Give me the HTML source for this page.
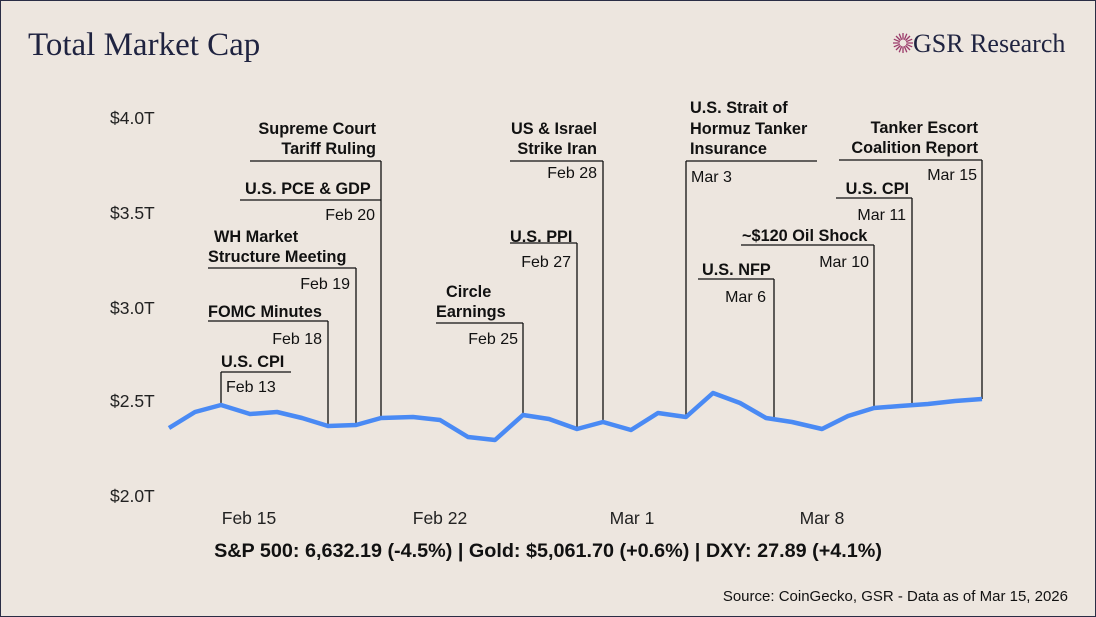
<!DOCTYPE html>
<html><head><meta charset="utf-8"><style>
html,body{margin:0;padding:0;background:#ede6df;}
svg{display:block;}
.b{font-family:"Liberation Sans",sans-serif;font-weight:bold;font-size:16.3px;fill:#111;}
.r{font-family:"Liberation Sans",sans-serif;font-size:16px;fill:#111;}
.ax{font-family:"Liberation Sans",sans-serif;font-size:17.5px;fill:#222;}
line{stroke:#111;stroke-width:1.3;}
</style></head><body>
<svg width="1096" height="617" viewBox="0 0 1096 617" xmlns="http://www.w3.org/2000/svg">
<rect x="0.5" y="0.5" width="1095" height="616" fill="#ede6df" stroke="#2a2d45" stroke-width="1"/>
<text x="28" y="55" font-family="Liberation Serif,serif" font-size="33" fill="#1f2340">Total Market Cap</text>
<g transform="translate(903,43)">
<line x1="-10" y1="0" x2="10" y2="0" style="stroke:#9b3a6a"/><line x1="0" y1="-10" x2="0" y2="10" style="stroke:#9b3a6a"/>
<line x1="-7" y1="-7" x2="7" y2="7" style="stroke:#9b3a6a"/><line x1="-7" y1="7" x2="7" y2="-7" style="stroke:#9b3a6a"/>
<line x1="-9.2" y1="-3.8" x2="9.2" y2="3.8" style="stroke:#9b3a6a"/><line x1="-9.2" y1="3.8" x2="9.2" y2="-3.8" style="stroke:#9b3a6a"/>
<line x1="-3.8" y1="-9.2" x2="3.8" y2="9.2" style="stroke:#9b3a6a"/><line x1="3.8" y1="-9.2" x2="-3.8" y2="9.2" style="stroke:#9b3a6a"/>
<circle r="3.5" fill="#ede6df" stroke="none"/>
</g>
<text x="913" y="52" font-family="Liberation Serif,serif" font-size="26" fill="#1f2340">GSR Research</text>

<text class="ax" x="110" y="124">$4.0T</text>
<text class="ax" x="110" y="219">$3.5T</text>
<text class="ax" x="110" y="314">$3.0T</text>
<text class="ax" x="110" y="407">$2.5T</text>
<text class="ax" x="110" y="502">$2.0T</text>
<text class="ax" x="249" y="524" text-anchor="middle">Feb 15</text>
<text class="ax" x="440" y="524" text-anchor="middle">Feb 22</text>
<text class="ax" x="632" y="524" text-anchor="middle">Mar 1</text>
<text class="ax" x="822" y="524" text-anchor="middle">Mar 8</text>

<line x1="221" y1="405" x2="221" y2="372"/><line x1="221" y1="372" x2="291" y2="372"/>
<text class="b" x="221" y="367">U.S. CPI</text><text class="r" x="226" y="392">Feb 13</text>

<line x1="208" y1="321" x2="328" y2="321"/><line x1="328" y1="321" x2="328" y2="426"/>
<text class="b" x="208" y="317">FOMC Minutes</text><text class="r" x="322" y="344" text-anchor="end">Feb 18</text>

<line x1="208" y1="268" x2="356" y2="268"/><line x1="356" y1="268" x2="356" y2="425"/>
<text class="b" x="214" y="242">WH Market</text><text class="b" x="208" y="262">Structure Meeting</text>
<text class="r" x="350" y="289" text-anchor="end">Feb 19</text>

<line x1="240" y1="200" x2="381" y2="200"/><line x1="250" y1="161" x2="381" y2="161"/><line x1="381" y1="161" x2="381" y2="418"/>
<text class="b" x="245" y="194">U.S. PCE &amp; GDP</text><text class="r" x="375" y="220" text-anchor="end">Feb 20</text>
<text class="b" x="376" y="134" text-anchor="end">Supreme Court</text><text class="b" x="376" y="154" text-anchor="end">Tariff Ruling</text>

<line x1="436" y1="323" x2="523" y2="323"/><line x1="523" y1="323" x2="523" y2="415"/>
<text class="b" x="446" y="297">Circle</text><text class="b" x="436" y="317">Earnings</text>
<text class="r" x="518" y="344" text-anchor="end">Feb 25</text>

<line x1="510" y1="243" x2="577" y2="243"/><line x1="577" y1="243" x2="577" y2="429"/>
<text class="b" x="510" y="242">U.S. PPI</text><text class="r" x="571" y="267" text-anchor="end">Feb 27</text>

<line x1="510" y1="161" x2="603" y2="161"/><line x1="603" y1="161" x2="603" y2="422"/>
<text class="b" x="597" y="134" text-anchor="end">US &amp; Israel</text><text class="b" x="597" y="154" text-anchor="end">Strike Iran</text>
<text class="r" x="597" y="178" text-anchor="end">Feb 28</text>

<line x1="686" y1="161" x2="817" y2="161"/><line x1="686" y1="161" x2="686" y2="417"/>
<text class="b" x="690" y="113">U.S. Strait of</text><text class="b" x="690" y="134">Hormuz Tanker</text><text class="b" x="690" y="154">Insurance</text>
<text class="r" x="691" y="182">Mar 3</text>

<line x1="698" y1="279" x2="774" y2="279"/><line x1="774" y1="279" x2="774" y2="418"/>
<text class="b" x="702" y="275">U.S. NFP</text><text class="r" x="766" y="302" text-anchor="end">Mar 6</text>

<line x1="741" y1="245" x2="874" y2="245"/><line x1="874" y1="245" x2="874" y2="408"/>
<text class="b" x="742" y="241">~$120 Oil Shock</text><text class="r" x="869" y="267" text-anchor="end">Mar 10</text>

<line x1="836" y1="198" x2="912" y2="198"/><line x1="912" y1="198" x2="912" y2="405"/>
<text class="b" x="909" y="194" text-anchor="end">U.S. CPI</text><text class="r" x="906" y="220" text-anchor="end">Mar 11</text>

<line x1="839" y1="160" x2="982" y2="160"/><line x1="982" y1="160" x2="982" y2="399"/>
<text class="b" x="978" y="133" text-anchor="end">Tanker Escort</text><text class="b" x="978" y="153" text-anchor="end">Coalition Report</text>
<text class="r" x="977" y="180" text-anchor="end">Mar 15</text>

<polyline fill="none" stroke="#4a8af4" stroke-width="4.5" stroke-linejoin="round" points="169,428 195,412 221,405 250,414 277,412 302,418 328,426 356,425 381,418 413,417 440,420 468,437 495,440 523,415 549,419 577,429 603,422 631,430 658,413 686,417 713,393 740,403 766,418 792,422 822,429 848,416 874,408 900,406 928,404 955,401 982,399"/>

<text x="548" y="557" text-anchor="middle" font-family="Liberation Sans,sans-serif" font-weight="bold" font-size="19.8" fill="#111">S&amp;P 500: 6,632.19 (-4.5%) | Gold: $5,061.70 (+0.6%) | DXY: 27.89 (+4.1%)</text>
<text x="1068" y="601" text-anchor="end" font-family="Liberation Sans,sans-serif" font-size="15" fill="#111">Source: CoinGecko, GSR - Data as of Mar 15, 2026</text>
</svg>
</body></html>
